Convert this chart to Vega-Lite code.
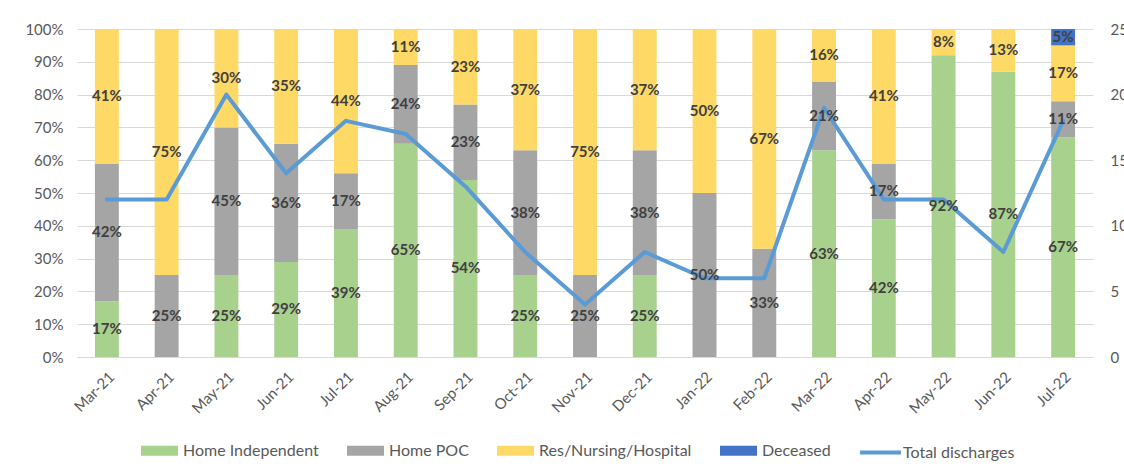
{
  "$schema": "https://vega.github.io/schema/vega-lite/v6.json",
  "width": 1016,
  "height": 328,
  "autosize": {"type": "none"},
  "padding": {"left": 77, "top": 29, "right": 31, "bottom": 116},
  "background": "white",
  "config": {
    "view": {"stroke": null},
    "font": "Lato",
    "axis": {"labelFont": "Lato", "labelFontSize": 15, "labelColor": "#595959", "ticks": false, "title": null},
    "legend": {"labelFont": "Lato", "labelFontSize": 16, "labelColor": "#595959", "padding": 0}
  },
  "datasets": {
    "categories": [
      {"Category": "Home Independent", "Rank": 1},
      {"Category": "Home POC", "Rank": 2},
      {"Category": "Res/Nursing/Hospital", "Rank": 3},
      {"Category": "Deceased", "Rank": 4}
    ],
    "shares": [
      {"Month": "Mar-21", "Category": "Home Independent", "Value": 0.17},
      {"Month": "Mar-21", "Category": "Home POC", "Value": 0.42},
      {"Month": "Mar-21", "Category": "Res/Nursing/Hospital", "Value": 0.41},
      {"Month": "Apr-21", "Category": "Home POC", "Value": 0.25},
      {"Month": "Apr-21", "Category": "Res/Nursing/Hospital", "Value": 0.75},
      {"Month": "May-21", "Category": "Home Independent", "Value": 0.25},
      {"Month": "May-21", "Category": "Home POC", "Value": 0.45},
      {"Month": "May-21", "Category": "Res/Nursing/Hospital", "Value": 0.30},
      {"Month": "Jun-21", "Category": "Home Independent", "Value": 0.29},
      {"Month": "Jun-21", "Category": "Home POC", "Value": 0.36},
      {"Month": "Jun-21", "Category": "Res/Nursing/Hospital", "Value": 0.35},
      {"Month": "Jul-21", "Category": "Home Independent", "Value": 0.39},
      {"Month": "Jul-21", "Category": "Home POC", "Value": 0.17},
      {"Month": "Jul-21", "Category": "Res/Nursing/Hospital", "Value": 0.44},
      {"Month": "Aug-21", "Category": "Home Independent", "Value": 0.65},
      {"Month": "Aug-21", "Category": "Home POC", "Value": 0.24},
      {"Month": "Aug-21", "Category": "Res/Nursing/Hospital", "Value": 0.11},
      {"Month": "Sep-21", "Category": "Home Independent", "Value": 0.54},
      {"Month": "Sep-21", "Category": "Home POC", "Value": 0.23},
      {"Month": "Sep-21", "Category": "Res/Nursing/Hospital", "Value": 0.23},
      {"Month": "Oct-21", "Category": "Home Independent", "Value": 0.25},
      {"Month": "Oct-21", "Category": "Home POC", "Value": 0.38},
      {"Month": "Oct-21", "Category": "Res/Nursing/Hospital", "Value": 0.37},
      {"Month": "Nov-21", "Category": "Home POC", "Value": 0.25},
      {"Month": "Nov-21", "Category": "Res/Nursing/Hospital", "Value": 0.75},
      {"Month": "Dec-21", "Category": "Home Independent", "Value": 0.25},
      {"Month": "Dec-21", "Category": "Home POC", "Value": 0.38},
      {"Month": "Dec-21", "Category": "Res/Nursing/Hospital", "Value": 0.37},
      {"Month": "Jan-22", "Category": "Home POC", "Value": 0.50},
      {"Month": "Jan-22", "Category": "Res/Nursing/Hospital", "Value": 0.50},
      {"Month": "Feb-22", "Category": "Home POC", "Value": 0.33},
      {"Month": "Feb-22", "Category": "Res/Nursing/Hospital", "Value": 0.67},
      {"Month": "Mar-22", "Category": "Home Independent", "Value": 0.63},
      {"Month": "Mar-22", "Category": "Home POC", "Value": 0.21},
      {"Month": "Mar-22", "Category": "Res/Nursing/Hospital", "Value": 0.16},
      {"Month": "Apr-22", "Category": "Home Independent", "Value": 0.42},
      {"Month": "Apr-22", "Category": "Home POC", "Value": 0.17},
      {"Month": "Apr-22", "Category": "Res/Nursing/Hospital", "Value": 0.41},
      {"Month": "May-22", "Category": "Home Independent", "Value": 0.92},
      {"Month": "May-22", "Category": "Res/Nursing/Hospital", "Value": 0.08},
      {"Month": "Jun-22", "Category": "Home Independent", "Value": 0.87},
      {"Month": "Jun-22", "Category": "Res/Nursing/Hospital", "Value": 0.13},
      {"Month": "Jul-22", "Category": "Home Independent", "Value": 0.67},
      {"Month": "Jul-22", "Category": "Home POC", "Value": 0.11},
      {"Month": "Jul-22", "Category": "Res/Nursing/Hospital", "Value": 0.17},
      {"Month": "Jul-22", "Category": "Deceased", "Value": 0.05}
    ],
    "totals": [
      {"Month": "Mar-21", "Total": 12},
      {"Month": "Apr-21", "Total": 12},
      {"Month": "May-21", "Total": 20},
      {"Month": "Jun-21", "Total": 14},
      {"Month": "Jul-21", "Total": 18},
      {"Month": "Aug-21", "Total": 17},
      {"Month": "Sep-21", "Total": 13},
      {"Month": "Oct-21", "Total": 8},
      {"Month": "Nov-21", "Total": 4},
      {"Month": "Dec-21", "Total": 8},
      {"Month": "Jan-22", "Total": 6},
      {"Month": "Feb-22", "Total": 6},
      {"Month": "Mar-22", "Total": 19},
      {"Month": "Apr-22", "Total": 12},
      {"Month": "May-22", "Total": 12},
      {"Month": "Jun-22", "Total": 8},
      {"Month": "Jul-22", "Total": 18}
    ]
  },
  "encoding": {
    "x": {
      "field": "Month", "type": "nominal", "sort": null,
      "scale": {"paddingInner": 0.6, "paddingOuter": 0.3},
      "axis": {"labelAngle": -45, "labelAlign": "right", "labelBaseline": "top", "labelPadding": 12, "domainColor": "#D9D9D9", "domainWidth": 1}
    }
  },
  "layer": [
    {
      "data": {"name": "shares"},
      "transform": [{"lookup": "Category", "from": {"data": {"name": "categories"}, "key": "Category", "fields": ["Rank"]}}],
      "mark": {"type": "bar"},
      "encoding": {
        "y": {
          "field": "Value", "type": "quantitative", "stack": "zero",
          "scale": {"domain": [0, 1]},
          "axis": {"values": [0, 0.1, 0.2, 0.3, 0.4, 0.5, 0.6, 0.7, 0.8, 0.9, 1], "format": ".0%", "grid": true, "gridColor": "#D9D9D9", "domain": false, "labelPadding": 14}
        },
        "order": {"field": "Rank", "type": "quantitative", "sort": "ascending"},
        "color": {
          "field": "Category", "type": "nominal",
          "scale": {"domain": ["Home Independent", "Home POC", "Res/Nursing/Hospital", "Deceased"], "range": ["#A9D18E", "#A5A5A5", "#FFD966", "#4472C4"]},
          "legend": {"orient": "none", "legendX": 64, "legendY": 403, "direction": "horizontal", "title": null, "symbolType": "M-1,-0.27H1V0.27H-1Z", "symbolSize": 1369, "symbolStrokeWidth": 0, "symbolOpacity": 1, "labelOffset": 5, "columnPadding": 28}
        }
      }
    },
    {
      "data": {"name": "totals"},
      "mark": {"type": "line", "strokeWidth": 4, "strokeJoin": "round", "strokeCap": "round"},
      "encoding": {
        "y": {
          "field": "Total", "type": "quantitative",
          "scale": {"domain": [0, 25]},
          "axis": {"orient": "right", "values": [0, 5, 10, 15, 20, 25], "grid": false, "domain": false, "labelPadding": 17}
        },
        "stroke": {
          "datum": "Total discharges",
          "scale": {"range": ["#5B9BD5"]},
          "legend": {"orient": "none", "legendX": 781, "legendY": 401, "title": null, "symbolType": "stroke", "symbolSize": 1681, "symbolStrokeWidth": 4, "labelOffset": 0}
        }
      }
    },
    {
      "data": {"name": "shares"},
      "transform": [{"lookup": "Category", "from": {"data": {"name": "categories"}, "key": "Category", "fields": ["Rank"]}}],
      "mark": {"type": "text", "font": "Lato", "fontWeight": "bold", "fontSize": 15, "align": "center", "baseline": "middle", "color": "#404040"},
      "encoding": {
        "y": {"field": "Value", "type": "quantitative", "stack": "zero", "bandPosition": 0.5, "scale": {"domain": [0, 1]}, "axis": null},
        "order": {"field": "Rank", "type": "quantitative", "sort": "ascending"},
        "detail": {"field": "Category", "type": "nominal"},
        "text": {"field": "Value", "type": "quantitative", "format": ".0%"}
      }
    }
  ],
  "resolve": {"scale": {"y": "independent"}}
}
